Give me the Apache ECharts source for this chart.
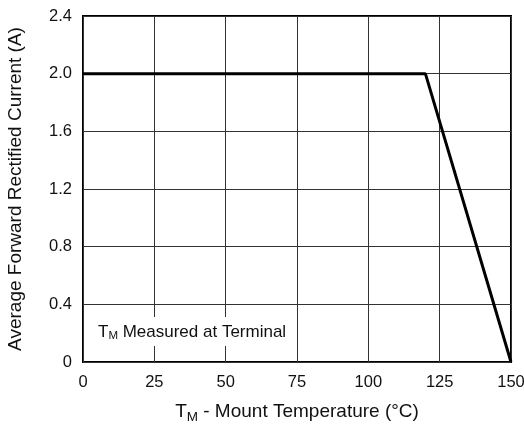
<!DOCTYPE html>
<html><head><meta charset="utf-8">
<script src="https://cdn.jsdelivr.net/npm/echarts@6/dist/echarts.min.js"></script>
<style>html,body{margin:0;padding:0;background:#fff}#c{width:524px;height:428px}</style>
</head><body><div id="c"></div>
<script>
var temps = [0, 120, 150];
var currents = [2.0, 2.0, 0];
var xTicks = [0, 25, 50, 75, 100, 125, 150];
var yTicks = [0, 0.4, 0.8, 1.2, 1.6, 2.0, 2.4];
var xTitle = 'T{sub|M} - Mount Temperature (°C)';
var yTitle = 'Average Forward Rectified Current (A)';
var note = 'T{sub|M} Measured at Terminal';

var font = 'Liberation Sans, Arial, Helvetica, sans-serif';
var chart = echarts.init(document.getElementById('c'));
chart.setOption({
  animation: false,
  backgroundColor: '#fff',
  grid: {left: 83, right: 13, top: 16, bottom: 66, containLabel: false, outerBoundsMode: 'none',
    show: true, borderColor: '#000', borderWidth: 2, backgroundColor: 'transparent'},
  xAxis: {
    type: 'value', min: xTicks[0], max: xTicks[xTicks.length-1], interval: 25,
    axisLine: {show: false}, axisTick: {show: false},
    splitLine: {show: true, lineStyle: {color: '#333', width: 1}},
    axisLabel: {color: '#111', fontSize: 16.5, fontFamily: font, margin: 12},
    name: xTitle, nameLocation: 'middle', nameGap: 37,
    nameTextStyle: {color: '#111', fontSize: 19, fontFamily: font,
      rich: {sub: {fontSize: 13.5, fontFamily: font, color: '#111', verticalAlign: 'bottom', padding: [11,0,0,0]}}}
  },
  yAxis: {
    type: 'value', min: yTicks[0], max: yTicks[yTicks.length-1], interval: 0.4,
    axisLine: {show: false}, axisTick: {show: false},
    splitLine: {show: true, lineStyle: {color: '#333', width: 1}},
    axisLabel: {color: '#111', fontSize: 16.5, fontFamily: font, margin: 11,
      formatter: function(v){ return v === 0 ? '0' : v.toFixed(1); }},
    name: yTitle, nameLocation: 'middle', nameGap: 58,
    nameTextStyle: {color: '#111', fontSize: 19, fontFamily: font}
  },
  series: [{
    type: 'line', data: temps.map(function(t, i){ return [t, currents[i]]; }),
    showSymbol: false, symbol: 'none',
    lineStyle: {color: '#000', width: 3}, z: 5
  }],
  graphic: [{
    type: 'text', left: 92, top: 317, z: 10,
    style: {
      text: note, fill: '#111', font: '17px ' + font,
      backgroundColor: '#fff', padding: [5, 5, 4, 6],
      rich: {sub: {fontSize: 11.5, fontFamily: font, fill: '#111', verticalAlign: 'bottom', padding: [8,0,0,0]}}
    }
  }]
});
</script></body></html>
